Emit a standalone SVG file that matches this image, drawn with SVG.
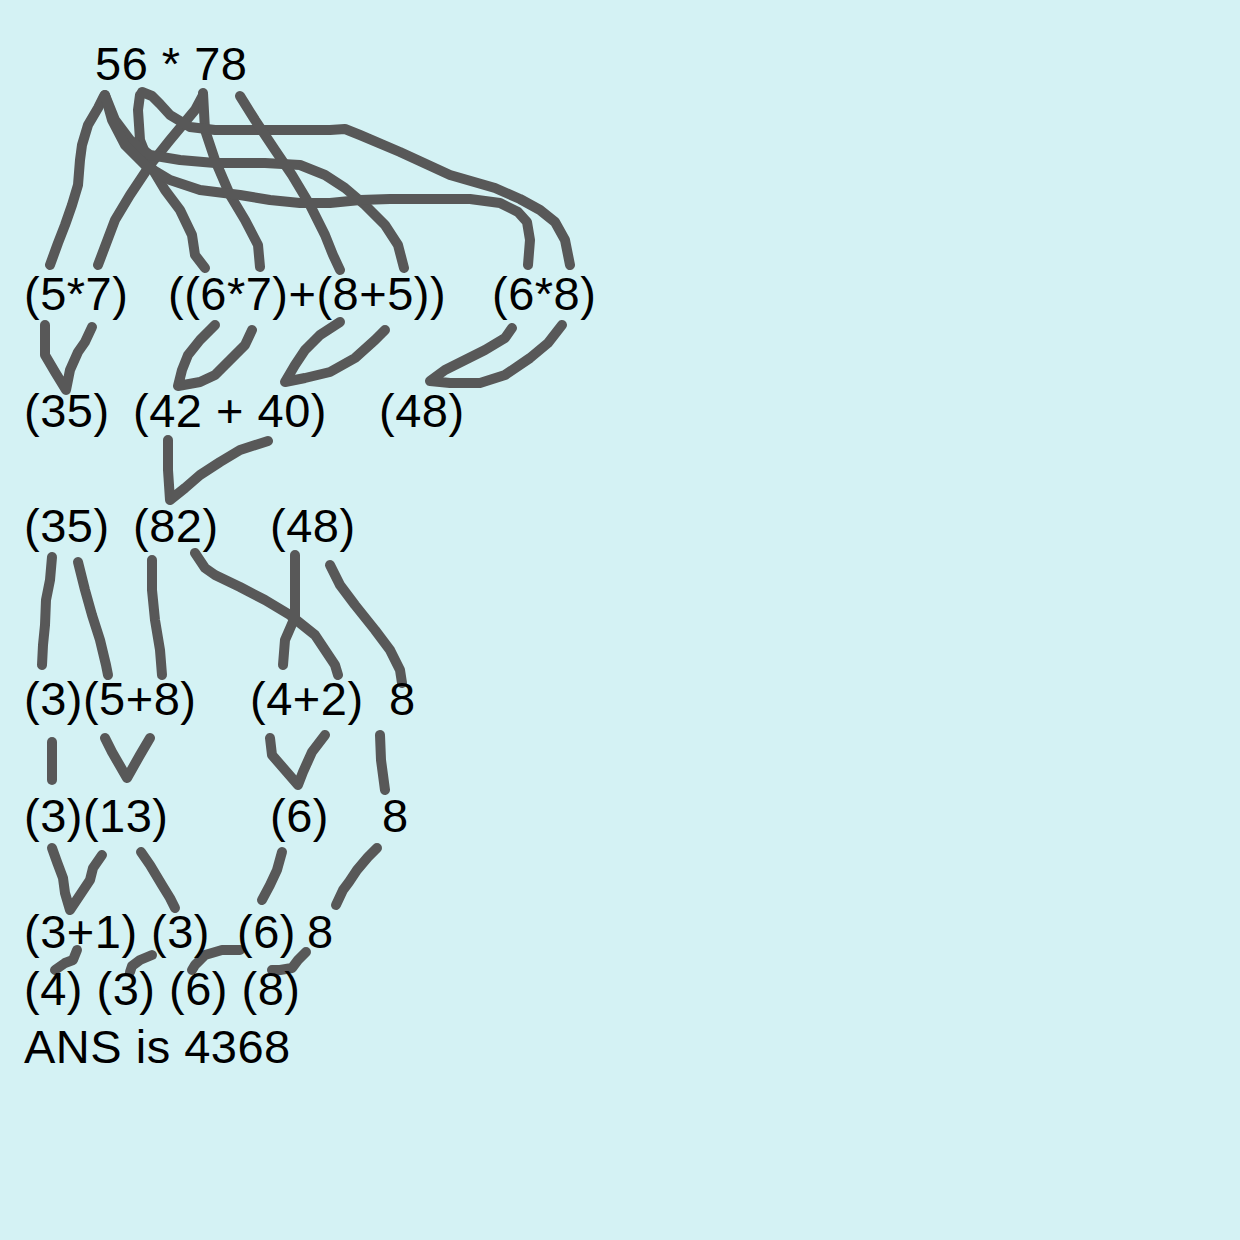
<svg xmlns="http://www.w3.org/2000/svg" width="1240" height="1240" viewBox="0 0 1240 1240">
<style>
text{font-family:"Liberation Sans",Arial,sans-serif;font-size:47px;letter-spacing:0.5px;fill:#000}
.c path{fill:none;stroke:#585858;stroke-width:10;stroke-linecap:round;stroke-linejoin:round}
</style>
<rect width="1240" height="1240" fill="#d4f2f4"/>
<g class="c" id="connectors">
<path d="M50,265 L58,243 L65,225 L72,205 L78,185 L80,160 L82,145 L88,125 L98,108 L104,96"/>
<path d="M203,95 L195,110 L185,122 L170,140 L150,165 L130,195 L115,220 L98,265"/>
<path d="M203,93 L205,130 L215,160 L230,195 L245,220 L258,245 L260,267"/>
<path d="M140,95 L138,110 L140,140 L150,165 L165,190 L180,210 L192,235 L195,255 L205,268"/>
<path d="M142,92 L152,96 L160,104 L170,115 L190,127 L215,130 L260,130 L330,130 L345,129 L360,135 L400,152 L450,175 L495,188 L520,199 L540,210 L555,222 L565,240 L570,265"/>
<path d="M240,96 L255,120 L275,150 L292,175 L310,205 L325,235 L333,255 L340,270"/>
<path d="M105,95 L115,120 L130,140 L150,155 L180,160 L215,163 L265,163 L300,165 L325,175 L345,188 L365,205 L385,225 L398,245 L404,268"/>
<path d="M105,95 L112,120 L125,145 L145,165 L170,180 L200,190 L240,195 L270,200 L300,203 L330,203 L360,200 L390,199 L470,199 L500,203 L518,212 L527,222 L530,240 L528,265"/>
<path d="M45,325 L45,355 L55,372 L66,390 L70,370 L78,352 L85,342 L92,327"/>
<path d="M215,325 L200,340 L188,355 L182,370 L178,386 L200,382 L215,375 L230,360 L245,345 L252,330"/>
<path d="M340,322 L320,335 L305,350 L295,365 L285,382 L305,378 L330,372 L355,358 L375,340 L385,330"/>
<path d="M512,328 L505,338 L485,350 L465,360 L445,370 L430,381 L450,383 L480,383 L505,375 L530,358 L548,343 L562,325"/>
<path d="M168,440 L168,470 L170,500 L185,488 L200,475 L220,462 L240,450 L268,441"/>
<path d="M52,557 L50,580 L46,600 L45,625 L43,645 L42,665"/>
<path d="M78,562 L85,590 L92,615 L100,640 L106,665 L108,675"/>
<path d="M152,560 L152,590 L155,620 L160,650 L162,675"/>
<path d="M195,553 L205,568 L215,575 L240,587 L265,600 L290,615 L315,635 L335,665 L338,675"/>
<path d="M295,555 L295,585 L295,617 L285,640 L283,665"/>
<path d="M330,565 L340,585 L355,605 L375,630 L390,650 L400,670 L402,683"/>
<path d="M52,742 L52,780"/>
<path d="M105,738 L112,752 L127,778 L140,755 L150,738"/>
<path d="M270,738 L272,755 L285,770 L298,785 L303,772 L312,752 L325,735"/>
<path d="M380,735 L381,760 L385,790"/>
<path d="M52,848 L57,862 L63,878 L65,893 L70,910 L80,895 L90,880 L93,868 L102,855"/>
<path d="M141,852 L150,865 L162,885 L170,898 L175,908"/>
<path d="M282,852 L277,870 L270,885 L262,900"/>
<path d="M377,848 L368,857 L357,870 L349,882 L343,890 L336,905"/>
<path d="M77,950 L73,960 L65,963 L55,970"/>
<path d="M152,955 L140,960 L132,966 L130,972"/>
<path d="M240,950 L222,950 L205,955 L195,965 L192,970"/>
<path d="M306,952 L298,960 L292,968 L280,970 L272,970"/>
</g>
<g id="n-root"><text x="95" y="80">56 * 78</text></g>
<g id="n-57"><text x="24" y="310">(5*7)</text></g>
<g id="n-67-85"><text x="168" y="310">((6*7)+(8+5))</text></g>
<g id="n-68"><text x="492" y="310">(6*8)</text></g>
<g id="n-35a"><text x="24" y="427">(35)</text></g>
<g id="n-42-40"><text x="133" y="427">(42 + 40)</text></g>
<g id="n-48a"><text x="379" y="427">(48)</text></g>
<g id="n-35b"><text x="24" y="542">(35)</text></g>
<g id="n-82"><text x="133" y="542">(82)</text></g>
<g id="n-48b"><text x="270" y="542">(48)</text></g>
<g id="n-3-58"><text x="24" y="715">(3)(5+8)</text></g>
<g id="n-42"><text x="250" y="715">(4+2)</text></g>
<g id="n-8a"><text x="389" y="715">8</text></g>
<g id="n-3-13"><text x="24" y="832">(3)(13)</text></g>
<g id="n-6a"><text x="270" y="832">(6)</text></g>
<g id="n-8b"><text x="382" y="832">8</text></g>
<g id="n-31"><text x="24" y="948">(3+1)</text></g>
<g id="n-3c"><text x="151" y="948">(3)</text></g>
<g id="n-6b"><text x="237" y="948">(6)</text></g>
<g id="n-8c"><text x="307" y="948">8</text></g>
<g id="n-final"><text x="24" y="1005">(4) (3) (6) (8)</text></g>
<g id="n-ans"><text x="24" y="1063">ANS is 4368</text></g>
</svg>
